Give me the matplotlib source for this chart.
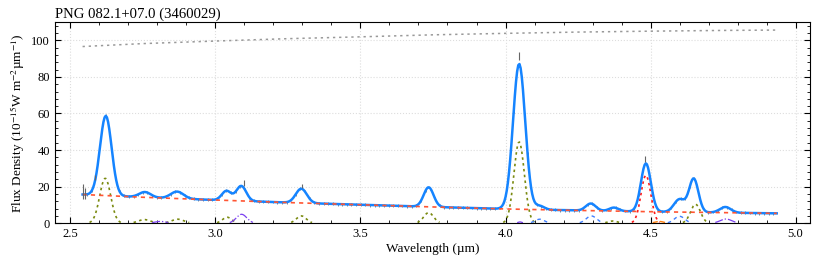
import matplotlib
matplotlib.use('Agg')
import matplotlib.pyplot as plt
from matplotlib.ticker import MultipleLocator, AutoMinorLocator
import numpy as np

plt.rcParams['font.family'] = ['Liberation Serif', 'DejaVu Serif']
plt.rcParams['mathtext.fontset'] = 'stix'

# continuum (red dashed), read at a few wavelengths
cont_wave = [2.542, 2.75, 3.0, 3.25, 3.5, 3.75, 4.0, 4.25, 4.5, 4.75, 4.935]
cont_flux = [15.7, 14.2, 12.7, 11.3, 10.1, 8.9, 7.8, 7.0, 6.3, 5.8, 5.4]

# grey dotted curve near the top
top_wave = [2.542, 2.75, 3.0, 3.25, 3.5, 3.75, 4.0, 4.25, 4.5, 4.75, 4.935]
top_flux = [96.6, 98.2, 99.6, 100.9, 101.9, 103.0, 103.8, 104.5, 105.0, 105.4, 105.6]

# total fit: lines above the continuum (centre, peak, sigma)
fit_cen = [2.622, 2.757, 2.868, 3.038, 3.089, 3.296, 3.735, 4.047, 4.118, 4.294, 4.374, 4.484, 4.600, 4.649, 4.758]
fit_amp = [43.6, 2.9, 3.8, 5.2, 8.2, 7.8, 10.7, 79.5, 2.0, 3.9, 1.9, 26.4, 7.0, 18.3, 3.1]
fit_sig = [0.020, 0.020, 0.022, 0.016, 0.017, 0.019, 0.017, 0.021, 0.016, 0.017, 0.016, 0.017, 0.019, 0.016, 0.019]

# individual components
olive_cen = [2.620, 2.755, 2.870, 3.040, 3.296, 3.735, 4.047, 4.370, 4.655]
olive_amp = [24.6, 2.0, 2.2, 3.3, 4.0, 5.8, 44.5, 1.2, 10.4]
olive_sig = [0.019, 0.021, 0.021, 0.016, 0.017, 0.017, 0.018, 0.016, 0.017]

purple_cen = [2.810, 3.090, 4.050, 4.760]
purple_amp = [1.0, 4.9, 0.7, 2.3]
purple_sig = [0.02, 0.018, 0.008, 0.02]

blue_cen = [4.118, 4.296, 4.600]
blue_amp = [2.2, 4.0, 3.8]
blue_sig = [0.016, 0.018, 0.018]

red_cen = [4.484]
red_amp = [26.2]
red_sig = [0.017]

orange_cen = [4.530]
orange_amp = [1.0]
orange_sig = [0.015]

# observed points that stand out from the fit (wave, flux, error)
obs_wave = [2.545, 2.552, 2.586, 3.097, 3.300, 4.047, 4.480]
obs_flux = [17.5, 16.5, 25.0, 22.0, 20.5, 91.5, 35.0]
obs_err = [4.0, 3.0, 1.2, 1.5, 1.2, 2.3, 1.5]

wave = np.linspace(cont_wave[0], cont_wave[-1], 600)


def lines(cen, amp, sig):
    out = np.zeros_like(wave)
    for c, a, s in zip(cen, amp, sig):
        out += a * np.exp(-0.5 * ((wave - c) / s) ** 2)
    return out


def show(y):
    return np.where(y > 0.3, y, np.nan)


cont = np.interp(wave, cont_wave, cont_flux)
total = cont + lines(fit_cen, fit_amp, fit_sig)

fig = plt.figure(figsize=(8.3, 2.56), dpi=100)
ax = fig.add_axes([0.0663, 0.128, 0.9097, 0.786])

# gray data under the fit
grid = wave[::4]
ax.errorbar(grid, np.interp(grid, wave, total), yerr=0.8, fmt='none',
            ecolor='#777777', elinewidth=0.6, zorder=1)
ax.errorbar(obs_wave, obs_flux, yerr=obs_err, fmt='none',
            ecolor='#666666', elinewidth=0.8, zorder=4)

ax.plot(wave, show(lines(olive_cen, olive_amp, olive_sig)), color='#7a8a10',
        ls=(0, (1.5, 2)), lw=1.2, zorder=2)
ax.plot(wave, show(lines(purple_cen, purple_amp, purple_sig)), color='#7b3ff0',
        ls='-.', lw=0.9, zorder=2)
ax.plot(wave, show(lines(blue_cen, blue_amp, blue_sig)), color='#3f7fff',
        ls=(0, (2.5, 2.5)), lw=1.0, zorder=2)
ax.plot(wave, show(lines(red_cen, red_amp, red_sig)), color='#ff1a1a',
        ls=(0, (1.5, 2)), lw=1.2, zorder=2)
ax.plot(wave, show(lines(orange_cen, orange_amp, orange_sig)), color='#ff7f0e',
        ls='--', lw=1.0, zorder=2)

ax.plot(wave, total, color='#1584ff', lw=1.8, zorder=3)
ax.plot(cont_wave, cont_flux, color='#ff5533', ls=(0, (2.5, 2.5)), lw=1.2, zorder=3.5)
ax.plot(top_wave, top_flux, color='#999999', ls=(0, (1.5, 2.5)), lw=1.1, zorder=2)

ax.set_xlim(2.447, 5.05)
ax.set_ylim(0, 110)
ax.xaxis.set_major_locator(MultipleLocator(0.5))
ax.xaxis.set_minor_locator(MultipleLocator(0.1))
ax.yaxis.set_major_locator(MultipleLocator(20))
ax.yaxis.set_minor_locator(AutoMinorLocator(5))
ax.tick_params(which='both', direction='in', top=True, right=True, labelsize=9)
ax.tick_params(which='major', length=4)
ax.tick_params(which='minor', length=2)
ax.grid(True, ls=':', color='#dddddd', lw=0.8)
ax.set_axisbelow(True)

ax.set_xlabel('Wavelength (µm)', fontsize=9.5, labelpad=2)
ax.set_ylabel(r'Flux Density (10$^{-15}$W m$^{-2}$µm$^{-1}$)', fontsize=9.5, labelpad=3)
ax.set_title('PNG 082.1+07.0 (3460029)', loc='left', fontsize=10.6, pad=3)

fig.savefig('out.png', dpi=100)
